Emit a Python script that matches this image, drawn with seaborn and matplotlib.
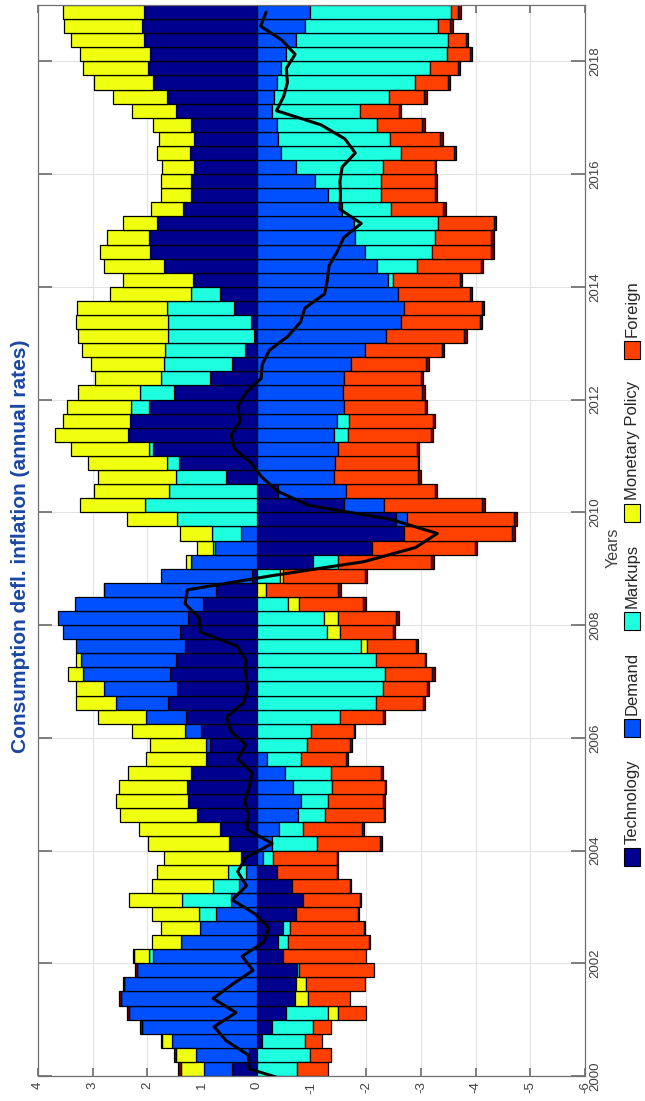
import matplotlib
matplotlib.use("Agg")
import matplotlib.pyplot as plt
from matplotlib.patches import Rectangle
import numpy as np
import pandas as pd
import seaborn as sns

# quarterly contributions to consumption deflator inflation, 2000Q1 .. 2018Q4
technology = [0.45, 0.15, -0.10, -0.27, -0.53, -0.70, -0.72, -0.73, -0.48, -0.38,
              -0.48, -0.72, -0.85, -0.65, -0.37, 0.28, 0.50, 0.67, 1.09, 1.25,
              1.28, 1.21, 0.93, 0.85, 1.02, 1.30, 1.62, 1.45, 1.59, 1.48,
              1.32, 1.41, 1.25, 0.99, 0.75, 0.09, -1.03, -2.11, -2.70, -2.55,
              -1.60, -0.38, 0.57, 1.43, 1.90, 2.35, 2.31, 1.97, 1.51, 0.85,
              0.45, 0.21, 0.05, 0.11, 0.41, 0.68, 1.17, 1.70, 1.95, 1.97,
              1.82, 1.35, 1.21, 1.21, 1.15, 1.23, 1.15, 1.20, 1.47, 1.65,
              1.89, 1.98, 1.95, 2.06, 2.09, 2.06]
demand = [0.52, 0.97, 1.55, 2.10, 2.34, 2.49, 2.42, 2.19, 1.90, 1.38,
          1.03, 0.75, 0.47, 0.33, 0.19, -0.12, -0.27, -0.40, -0.75, -0.80,
          -0.67, -0.52, -0.19, 0.07, 0.29, 0.72, 0.96, 1.35, 1.58, 1.74,
          1.98, 2.14, 2.39, 2.33, 2.05, 1.67, 1.20, 0.77, 0.28, -0.19,
          -0.73, -1.25, -1.41, -1.43, -1.48, -1.42, -1.47, -1.59, -1.57, -1.60,
          -1.73, -1.97, -2.37, -2.63, -2.70, -2.58, -2.40, -2.20, -1.97, -1.80,
          -1.78, -1.55, -1.30, -1.07, -0.71, -0.44, -0.39, -0.37, -0.28, -0.31,
          -0.37, -0.44, -0.54, -0.72, -0.88, -0.98]
markups = [-0.73, -0.97, -0.78, -0.75, -0.78, 0.00, 0.00, -0.05, 0.07, -0.19,
           -0.13, 0.31, 0.89, 0.47, 0.33, -0.18, -0.83, -0.45, -0.50, -0.51,
           -0.70, -0.83, -0.61, -0.92, -0.99, -1.53, -2.18, -2.30, -2.35, -2.18,
           -1.90, -1.29, -1.23, -0.57, 0.00, -0.43, -0.45, 0.03, 0.54, 1.45,
           2.05, 1.61, 0.91, 0.21, 0.07, -0.25, -0.22, 0.33, 0.62, 0.91,
           1.25, 1.47, 1.57, 1.52, 1.24, 0.53, -0.09, -0.72, -1.23, -1.45,
           -1.53, -0.90, -0.97, -1.20, -1.59, -2.19, -2.05, -1.82, -1.60, -2.10,
           -2.53, -2.72, -2.93, -2.77, -2.43, -2.57]
monetary_policy = [0.42, 0.36, 0.18, 0.00, -0.17, -0.24, -0.18, 0.00, 0.28, 0.54,
                   0.72, 0.85, 0.98, 1.12, 1.31, 1.42, 1.48, 1.48, 1.41, 1.32,
                   1.24, 1.15, 1.09, 1.03, 0.97, 0.89, 0.72, 0.51, 0.29, 0.09,
                   -0.12, -0.23, -0.25, -0.21, -0.17, -0.05, 0.09, 0.30, 0.58, 0.93,
                   1.18, 1.36, 1.43, 1.44, 1.42, 1.34, 1.24, 1.17, 1.13, 1.19,
                   1.33, 1.51, 1.65, 1.68, 1.63, 1.47, 1.28, 1.10, 0.91, 0.77,
                   0.63, 0.58, 0.55, 0.55, 0.59, 0.60, 0.63, 0.69, 0.82, 0.97,
                   1.09, 1.20, 1.29, 1.34, 1.43, 1.49]
foreign = [-0.58, -0.39, -0.32, -0.33, -0.51, -0.76, -1.07, -1.37, -1.52, -1.48,
           -1.35, -1.13, -1.03, -1.05, -1.09, -1.17, -1.15, -1.08, -1.08, -1.00,
           -0.97, -0.92, -0.83, -0.78, -0.78, -0.78, -0.85, -0.82, -0.86, -0.89,
           -0.89, -0.97, -1.07, -1.17, -1.32, -1.49, -1.71, -1.87, -1.97, -1.96,
           -1.79, -1.63, -1.54, -1.51, -1.45, -1.51, -1.53, -1.48, -1.45, -1.40,
           -1.37, -1.42, -1.42, -1.45, -1.41, -1.32, -1.23, -1.17, -1.09, -1.04,
           -1.03, -0.96, -0.99, -0.99, -0.96, -0.97, -0.91, -0.83, -0.72, -0.65,
           -0.60, -0.51, -0.43, -0.33, -0.22, -0.13]
# residual (initial conditions), not in the legend
other = [0.05, 0.04, 0.03, 0.03, 0.03, 0.03, 0.02, 0.04, 0.02, -0.02,
         -0.02, -0.02, -0.02, -0.02, -0.02, -0.02, -0.03, -0.03, -0.02, -0.03,
         -0.03, -0.03, -0.04, -0.04, -0.03, -0.04, -0.04, -0.03, -0.04, -0.03,
         -0.04, -0.03, -0.05, -0.05, -0.05, -0.04, -0.05, -0.04, -0.05, -0.05,
         -0.05, -0.04, -0.05, -0.03, -0.03, -0.04, -0.04, -0.05, -0.05, -0.04,
         -0.04, -0.03, -0.05, -0.04, -0.04, -0.04, -0.04, -0.04, -0.04, -0.04,
         -0.04, -0.04, -0.03, -0.03, -0.02, -0.04, -0.05, -0.05, -0.04, -0.05,
         -0.04, -0.04, -0.04, -0.05, -0.05, -0.05]
# observed inflation (deviation), starts one quarter before 2000 (clipped)
inflation = [-0.70,
             0.13, 0.16, 0.56, 0.78, 0.38, 0.80, 0.45, 0.07, 0.27, -0.13,
             -0.22, 0.03, 0.45, 0.19, 0.35, 0.20, -0.28, 0.18, 0.15, 0.22,
             0.14, 0.08, 0.35, 0.20, 0.48, 0.55, 0.24, 0.17, 0.20, 0.20,
             0.36, 1.03, 1.05, 1.31, 1.27, -0.27, -1.96, -2.90, -3.30, -2.45,
             -0.94, -0.38, -0.09, 0.10, 0.41, 0.47, 0.30, 0.35, 0.20, -0.08,
             -0.10, -0.23, -0.57, -0.80, -0.88, -1.24, -1.29, -1.32, -1.47, -1.59,
             -1.91, -1.52, -1.53, -1.52, -1.56, -1.80, -1.61, -1.17, -0.36, -0.49,
             -0.56, -0.54, -0.70, -0.46, -0.07, -0.17]

shock_names = ["Technology", "Demand", "Markups", "Monetary Policy", "Foreign"]
shock_colors = ["#00008f", "#0050ff", "#1effe0", "#f0ff0f", "#ff4000"]
other_color = "#800000"
year_ticks = [2000, 2002, 2004, 2006, 2008, 2010, 2012, 2014, 2016, 2018]
value_ticks = [-6, -5, -4, -3, -2, -1, 0, 1, 2, 3, 4]

W, H = 645, 1101


def fx(x):
    return x / W


def fy(y):
    return 1 - y / H


sns.set_theme(style="white")
plt.rcParams["font.family"] = ["Liberation Sans", "DejaVu Sans"]

fig = plt.figure(figsize=(W / 100, H / 100), dpi=100)
ax = fig.add_axes([fx(38), fy(1076), (585 - 38) / W, (1076 - 5) / H])

n = len(technology)
quarter_mid = 2000.125 + 0.25 * np.arange(n)

series = list(zip(shock_names, [technology, demand, markups, monetary_policy, foreign], shock_colors))
series.append(("Other", other, other_color))

# MATLAB-style stacking: positives and negatives pile up separately
pos_base = np.zeros(n)
neg_base = np.zeros(n)
for name, vals, color in series:
    v = np.asarray(vals, dtype=float)
    left = np.where(v >= 0, pos_base, neg_base)
    ax.barh(quarter_mid, v, left=left, height=0.25, color=color,
            edgecolor="black", linewidth=0.9, zorder=2)
    pos_base += np.clip(v, 0, None)
    neg_base += np.clip(v, None, 0)

line_df = pd.DataFrame({
    "year": 1999.875 + 0.25 * np.arange(len(inflation)),
    "inflation": inflation,
})
sns.lineplot(data=line_df, x="inflation", y="year", orient="y", color="black",
             linewidth=2.2, ax=ax, zorder=3)

ax.set_xlim(4, -6)
ax.set_ylim(2000, 2019)
ax.set_xticks(value_ticks)
ax.set_xticklabels([str(t) for t in value_ticks])
ax.set_yticks(year_ticks)
ax.set_yticklabels([str(t) for t in year_ticks])
ax.set_xlabel("")
ax.set_ylabel("")
ax.grid(True, color="#e3e3e3", linewidth=0.8)
ax.set_axisbelow(True)
for sp in ax.spines.values():
    sp.set_color("#707070")
    sp.set_linewidth(0.9)

ax.tick_params(axis="x", direction="in", length=6, top=True, bottom=True,
               color="#707070", labelcolor="#404040", labelsize=9.5,
               labelrotation=90, pad=4)
ax.tick_params(axis="y", direction="in", length=10, left=True, right=True,
               labelleft=False, labelright=True, color="#707070",
               labelcolor="#404040", labelsize=9.5, labelrotation=90, pad=3)
for lbl in ax.get_yticklabels():
    lbl.set_verticalalignment("center")

fig.text(fx(613), fy(548), "Years", rotation=90, ha="center", va="center",
         fontsize=11.5, color="#404040")
fig.text(fx(21), fy(546), "Consumption defl. inflation (annual rates)",
         rotation=90, ha="center", va="center", fontsize=15,
         fontweight="bold", color="#1b47a3")

# legend, laid out bottom-to-top like the rotated MATLAB legend
fig.canvas.draw()
renderer = fig.canvas.get_renderer()
leg_bottom, leg_top = 866, 280
patch_h, patch_w, text_gap = 18, 16, 4
labels = [fig.text(0, 0, name, rotation=90, rotation_mode="anchor", ha="left",
                   va="center", fontsize=12, color="#262626") for name in shock_names]
widths = [t.get_window_extent(renderer).height for t in labels]
spare = (leg_bottom - leg_top) - len(labels) * (patch_h + text_gap) - sum(widths)
item_gap = spare / (len(labels) - 1)

y_cur = leg_bottom
for t, w, color in zip(labels, widths, shock_colors):
    fig.patches.append(Rectangle((fx(624), fy(y_cur)), patch_w / W, patch_h / H,
                                 transform=fig.transFigure, facecolor=color,
                                 edgecolor="black", linewidth=0.8))
    y_cur -= patch_h + text_gap
    t.set_position((fx(632), fy(y_cur)))
    y_cur -= w + item_gap

fig.savefig("out.png", dpi=100)
